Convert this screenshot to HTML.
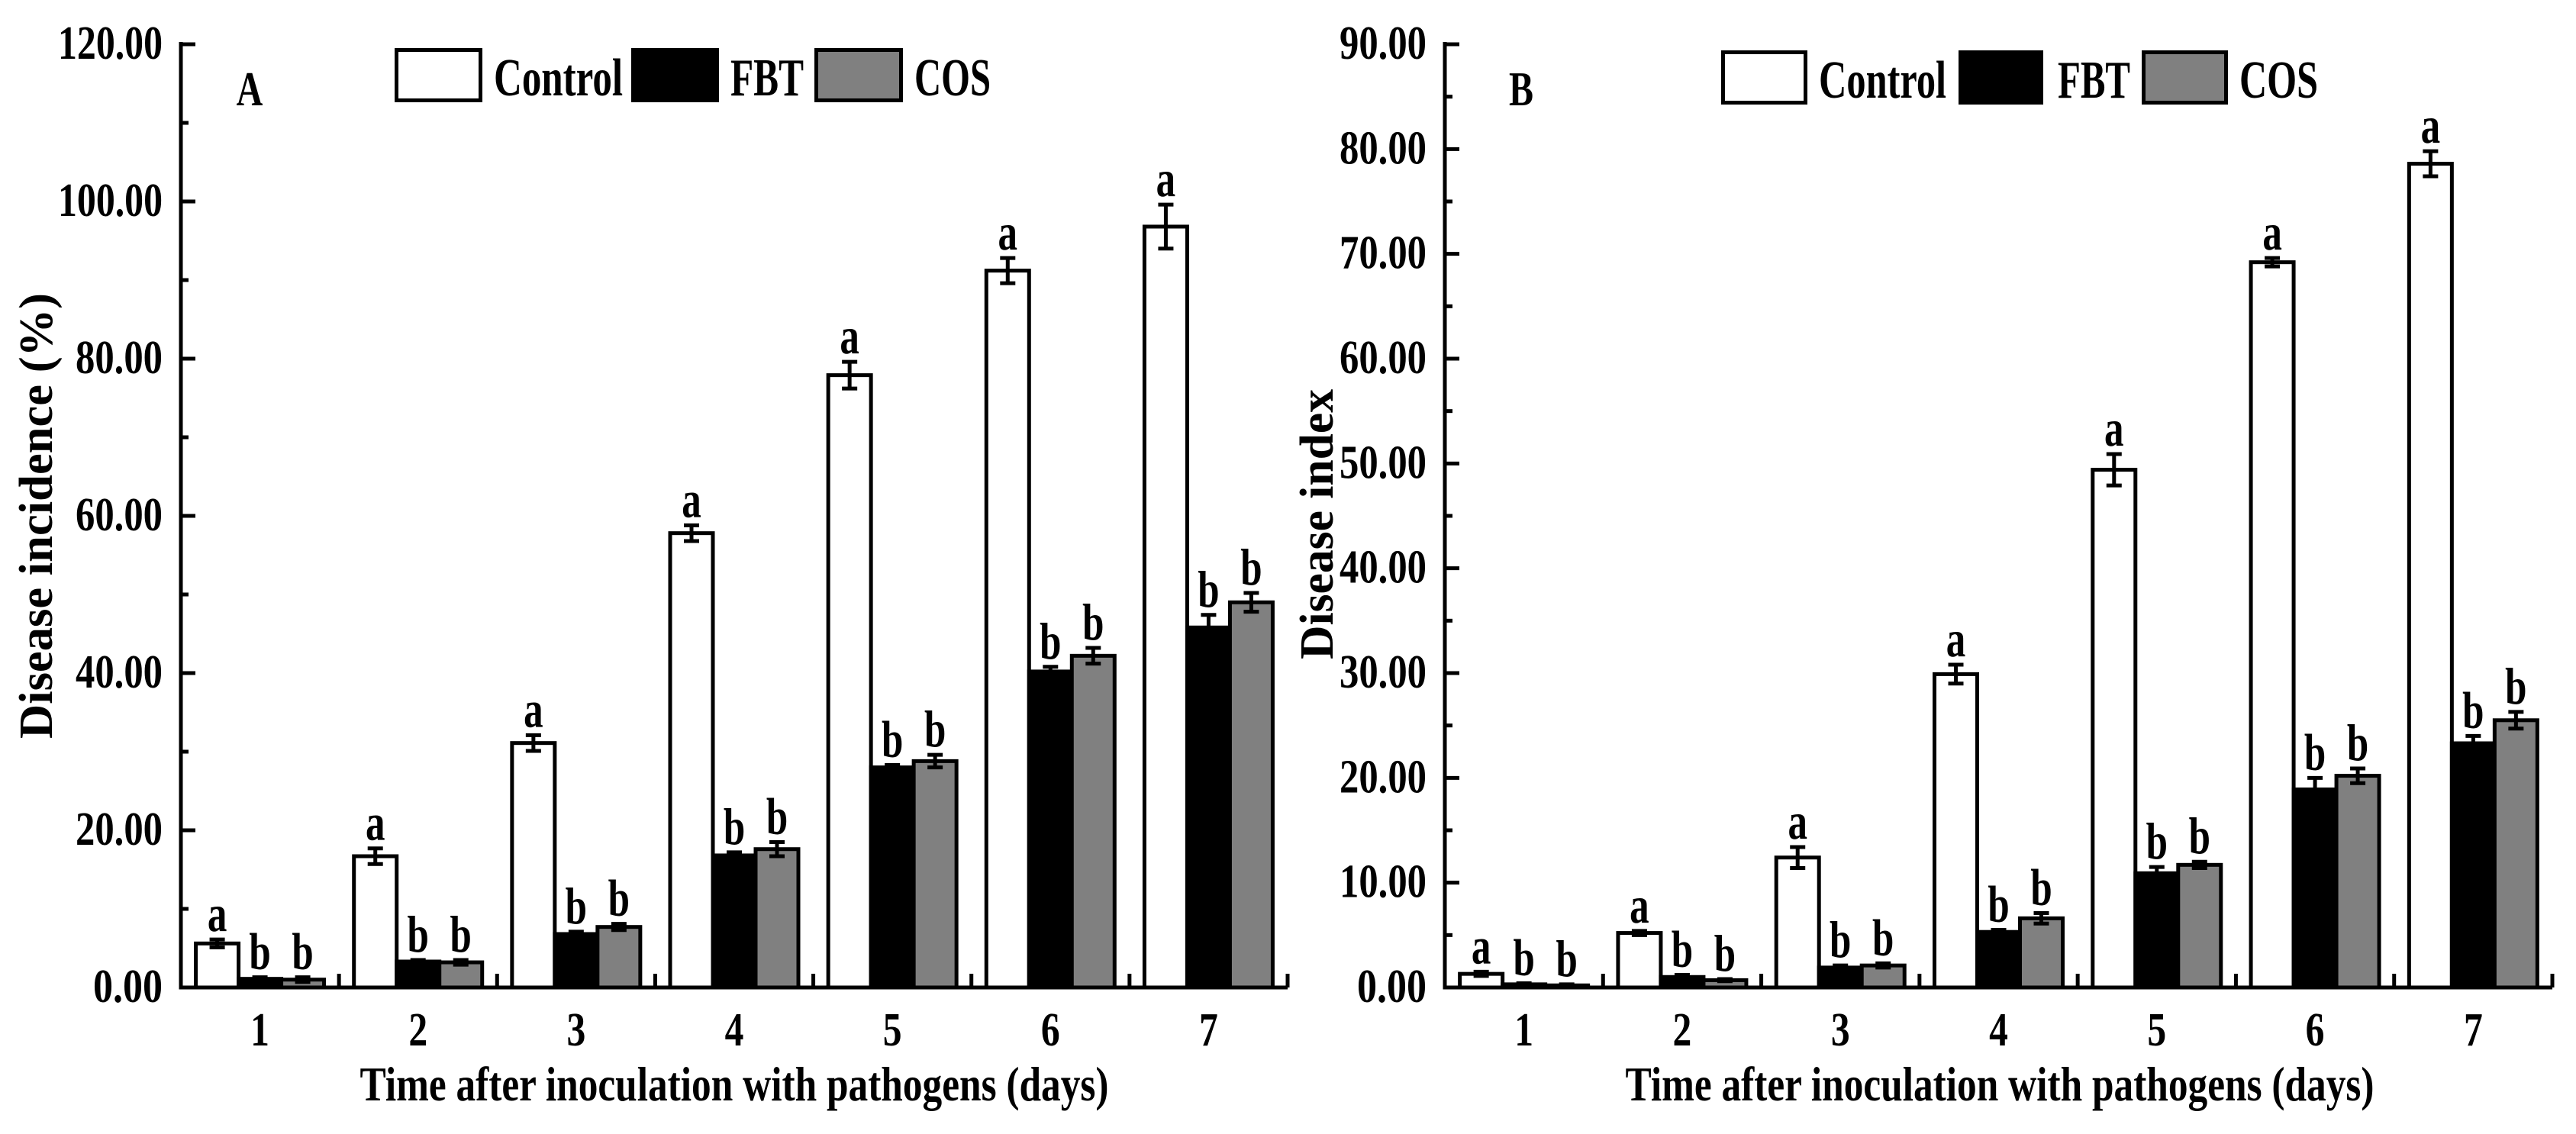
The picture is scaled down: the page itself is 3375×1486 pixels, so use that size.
<!DOCTYPE html>
<html><head><meta charset="utf-8"><style>
html,body{margin:0;padding:0;background:#fff;}
svg{display:block;}
text{font-family:"Liberation Serif",serif;font-weight:bold;fill:#000;}
</style></head>
<body>
<svg id="fig" width="3375" height="1486" viewBox="0 0 3375 1486" xmlns="http://www.w3.org/2000/svg"></svg>
<script>
const categories = ["1","2","3","4","5","6","7"];
const seriesNames = ["Control","FBT","COS"];
// Panel A: Disease incidence (%)
const aControl = [5.6, 16.7, 31.1, 57.8, 77.9, 91.2, 96.8];
const aFBT     = [1.1, 3.3, 6.8, 16.8, 28.0, 40.2, 45.8];
const aCOS     = [1.0, 3.2, 7.7, 17.6, 28.8, 42.2, 49.0];
const aControlErr = [0.5, 1.0, 1.0, 1.0, 1.7, 1.6, 2.8];
const aFBTErr     = [0.2, 0.2, 0.3, 0.4, 0.3, 0.6, 1.6];
const aCOSErr     = [0.3, 0.3, 0.4, 0.9, 0.8, 1.0, 1.2];
const aControlSig = ["a","a","a","a","a","a","a"];
const aFBTSig     = ["b","b","b","b","b","b","b"];
const aCOSSig     = ["b","b","b","b","b","b","b"];
const aTicks = [0,20,40,60,80,100,120];
// Panel B: Disease index
const bControl = [1.3, 5.2, 12.4, 29.9, 49.4, 69.2, 78.6];
const bFBT     = [0.3, 1.0, 1.9, 5.3, 10.9, 18.9, 23.3];
const bCOS     = [0.2, 0.7, 2.1, 6.6, 11.7, 20.2, 25.5];
const bControlErr = [0.2, 0.2, 1.0, 0.9, 1.5, 0.4, 1.2];
const bFBTErr     = [0.1, 0.2, 0.2, 0.2, 0.6, 1.1, 0.7];
const bCOSErr     = [0.1, 0.1, 0.2, 0.5, 0.3, 0.7, 0.8];
const bControlSig = ["a","a","a","a","a","a","a"];
const bFBTSig     = ["b","b","b","b","b","b","b"];
const bCOSSig     = ["b","b","b","b","b","b","b"];
const bTicks = [0,10,20,30,40,50,60,70,80,90];

const NS = "http://www.w3.org/2000/svg";
const svg = document.getElementById("fig");
function el(tag, attrs, parent){
  const e = document.createElementNS(NS, tag);
  for (const k in attrs) e.setAttribute(k, attrs[k]);
  (parent||svg).appendChild(e);
  return e;
}
const fills = ["#ffffff","#000000","#808080"];

function panel(cfg){
  const g = el("g", {});
  
  
  const x0 = cfg.x0, x1 = cfg.x1, y0 = 1294, yTop = 58;
  const yMax = cfg.ticks[cfg.ticks.length-1];
  const yScale = v => y0 - (v / yMax) * (y0 - yTop);
  const step = (x1 - x0) / categories.length;
  const xCenter = i => x0 + step * (i + 0.5);
  const bw = 56;

  const series = [cfg.ctrl, cfg.fbt, cfg.cos];
  const errs = [cfg.ctrlErr, cfg.fbtErr, cfg.cosErr];
  const sigs = [cfg.ctrlSig, cfg.fbtSig, cfg.cosSig];
  for (let s = 0; s < 3; s++){
    for (let i = 0; i < categories.length; i++){
      const v = series[s][i], e = errs[s][i];
      const bx = xCenter(i) - 1.5*bw + s*bw;
      const by = yScale(v);
      const r = el("rect", {x: bx, y: by, width: bw, height: y0 - by, fill: fills[s], stroke: "#000", "stroke-width": 5}, g);
      
      
      const cx = bx + bw/2;
      const eT = yScale(v + e), eB = yScale(Math.max(0, v - e));
      const eg = el("g", {stroke: "#000", "stroke-width": 5}, g);
      
      
      el("line", {x1: cx, x2: cx, y1: eT, y2: eB}, eg);
      el("line", {x1: cx-10, x2: cx+10, y1: eT, y2: eT}, eg);
      el("line", {x1: cx-10, x2: cx+10, y1: eB, y2: eB}, eg);
      const t = el("text", {x: 0, y: 0, "font-size": 68, "text-anchor": "middle",
        transform: "translate(" + cx + "," + (eT - 11) + ") scale(0.75,1)"}, g);
      t.textContent = sigs[s][i];
      
      
    }
  }

  const ax = el("g", {stroke: "#000", "stroke-width": 5, fill: "none"}, g);
  
  
  el("line", {x1: x0, x2: x0, y1: yTop - 3, y2: y0 + 2.5}, ax);
  el("line", {x1: x0 - 2.5, x2: x1, y1: y0, y2: y0}, ax);
  const minorStep = (cfg.ticks[1] - cfg.ticks[0]) / 2;
  for (let v = 0; v <= yMax + 1e-9; v += minorStep){
    const major = Math.abs((v / (2*minorStep)) - Math.round(v / (2*minorStep))) < 1e-6;
    el("line", {x1: x0, x2: x0 + (major ? 19 : 10), y1: yScale(v), y2: yScale(v)}, ax);
  }
  for (let i = 0; i <= categories.length; i++){
    const tx = x0 + step * i;
    el("line", {x1: tx, x2: tx, y1: y0, y2: y0 - 18}, ax);
  }
  for (const v of cfg.ticks){
    const s = v.toFixed(2);
    const nd = s.length - 1;
    const t = el("text", {x: x0 - 24, y: yScale(v) + 19, "font-size": 62, "text-anchor": "end",
      textLength: nd*23 + 22, lengthAdjust: "spacingAndGlyphs"}, g);
    t.textContent = s;
    
    
  }
  for (let i = 0; i < categories.length; i++){
    const t = el("text", {x: 0, y: 0, "font-size": 62, "text-anchor": "middle",
      transform: "translate(" + xCenter(i) + ",1370) scale(0.8,1)"}, g);
    t.textContent = categories[i];
    
    
  }
  const xt = el("text", {x: cfg.xTitleX, y: 1442, "font-size": 64, "text-anchor": "middle",
    textLength: 981, lengthAdjust: "spacingAndGlyphs"}, g);
  xt.textContent = "Time after inoculation with pathogens (days)";
  
  
  const yt = el("text", {x: 0, y: 0, "font-size": 62, "text-anchor": "middle",
    textLength: cfg.yTitleLen, lengthAdjust: "spacingAndGlyphs",
    transform: "translate(" + cfg.yTitleX + "," + cfg.yTitleY + ") rotate(-90)"}, g);
  yt.textContent = cfg.yTitle;
  
  
  const pl = el("text", {x: 0, y: 0, "font-size": 64, "text-anchor": "middle",
    transform: "translate(" + cfg.letterX + ",138) scale(0.75,1)"}, g);
  pl.textContent = cfg.letter;
  
  
  const lg = el("g", {}, g);
  
  
  for (let s = 0; s < 3; s++){
    const L = cfg.legend[s];
    const en = el("g", {}, lg);
    
    
    el("rect", {x: L[0] + 2.5, y: cfg.legY + 2.5, width: L[1] - L[0] - 5, height: 66, fill: fills[s], stroke: "#000", "stroke-width": 5}, en);
    const t = el("text", {x: L[2], y: cfg.legY + 62, "font-size": 70,
      textLength: L[3] - L[2], lengthAdjust: "spacingAndGlyphs"}, en);
    t.textContent = seriesNames[s];
  }
}

panel({key: "incidence", x0: 237, x1: 1687, ticks: aTicks,
  ctrl: aControl, fbt: aFBT, cos: aCOS, ctrlErr: aControlErr, fbtErr: aFBTErr, cosErr: aCOSErr,
  ctrlSig: aControlSig, fbtSig: aFBTSig, cosSig: aCOSSig,
  xTitleX: 962, yTitle: "Disease incidence (%)", yTitleX: 68, yTitleY: 676, yTitleLen: 584,
  letter: "A", letterX: 327, legY: 63,
  legend: [[517,632,647,816],[827,942,957,1053],[1067,1183,1198,1298]]});

panel({key: "index", x0: 1893, x1: 3344, ticks: bTicks,
  ctrl: bControl, fbt: bFBT, cos: bCOS, ctrlErr: bControlErr, fbtErr: bFBTErr, cosErr: bCOSErr,
  ctrlSig: bControlSig, fbtSig: bFBTSig, cosSig: bCOSSig,
  xTitleX: 2620, yTitle: "Disease index", yTitleX: 1746, yTitleY: 687, yTitleLen: 354,
  letter: "B", letterX: 1993, legY: 66,
  legend: [[2255,2368,2383,2550],[2566,2677,2696,2791],[2806,2919,2934,3037]]});
</script>
</body></html>
